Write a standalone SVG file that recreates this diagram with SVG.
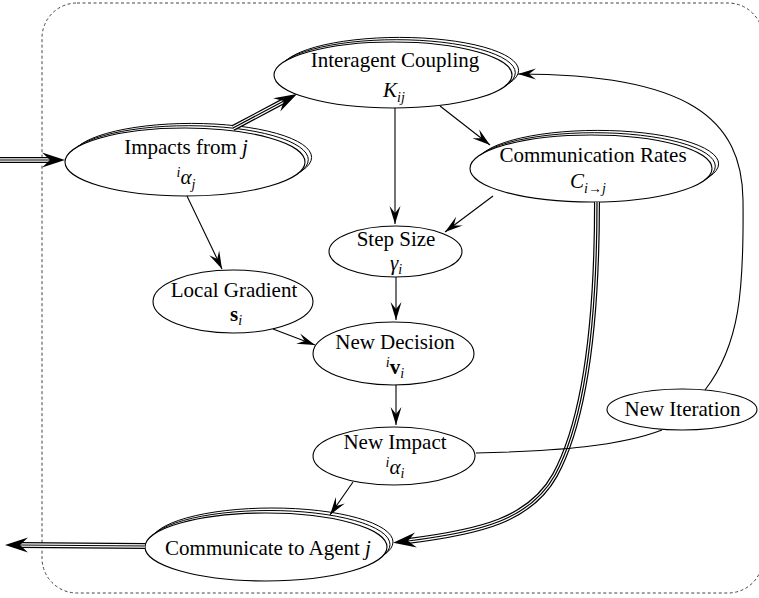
<svg xmlns="http://www.w3.org/2000/svg" width="759" height="598" viewBox="0 0 759 598">
<defs>
<style>
.bg{fill:#fff}
.frame{fill:none;stroke:#444;stroke-width:1;stroke-dasharray:3,2.5}
.node{fill:#fff;stroke:#000;stroke-width:1.1}
.per{fill:none;stroke:#000;stroke-width:1}
.lbl{font-family:"Liberation Serif","Times New Roman",serif;font-size:21px;text-anchor:middle;fill:#000}
.it{font-style:italic}
.sub{font-size:14px}
.b{font-weight:bold}
.e{fill:none;stroke:#000;stroke-width:1.1;marker-end:url(#arr)}
.plain{fill:none;stroke:#000;stroke-width:1.1}
.t1{fill:none;stroke:#000;stroke-width:6}
.t2{fill:none;stroke:#fff;stroke-width:3.6}
.t3{fill:none;stroke:#000;stroke-width:1.2;marker-end:url(#arr3)}
</style>
<marker id="arr" markerUnits="userSpaceOnUse" markerWidth="40" markerHeight="40" refX="0" refY="0" orient="auto" overflow="visible">
<path d="M0,0 L-18,-5.5 L-11,0 L-18,5.5 Z" fill="#000"/>
</marker>
<marker id="arr3" markerUnits="userSpaceOnUse" markerWidth="40" markerHeight="40" refX="0" refY="0" orient="auto" overflow="visible">
<path d="M15,0 L-8,-7.5 L0,0 L-8,7.5 Z" fill="#000"/>
</marker>
</defs>
<rect class="bg" x="0" y="0" width="759" height="598"/>
<rect class="frame" x="42" y="3" width="721" height="590" rx="35" ry="35"/>

<g id="node-coupling">
<ellipse class="per" cx="399.6" cy="70.4" rx="119" ry="33"/>
<ellipse class="per" cx="396.3" cy="72.7" rx="119" ry="33"/>
<ellipse class="node" cx="393" cy="75" rx="119" ry="33"/>
<text class="lbl" x="395" y="67">Interagent Coupling</text>
<text class="lbl" x="394" y="97"><tspan class="it">K</tspan><tspan class="it sub" dy="5">ij</tspan></text>
</g>

<g id="node-impacts">
<ellipse class="per" cx="191.6" cy="157.4" rx="120" ry="34"/>
<ellipse class="per" cx="188.3" cy="159.7" rx="120" ry="34"/>
<ellipse class="node" cx="185" cy="162" rx="120" ry="34"/>
<text class="lbl" x="186" y="154">Impacts from <tspan class="it">j</tspan></text>
<text class="lbl" x="186" y="184"><tspan class="it sub" dy="-7">i</tspan><tspan class="it" dy="7">α</tspan><tspan class="it sub" dy="5">j</tspan></text>
</g>

<g id="node-rates">
<ellipse class="per" cx="597.6" cy="163.9" rx="121" ry="33.5"/>
<ellipse class="per" cx="594.3" cy="166.2" rx="121" ry="33.5"/>
<ellipse class="node" cx="591" cy="168.5" rx="121" ry="33.5"/>
<text class="lbl" x="593" y="162">Communication Rates</text>
<text class="lbl" x="588" y="188"><tspan class="it">C</tspan><tspan class="sub" dy="5"><tspan class="it">i</tspan>→<tspan class="it">j</tspan></tspan></text>
</g>

<g id="node-step">
<ellipse class="node" cx="395.5" cy="251.5" rx="66.5" ry="25.5"/>
<text class="lbl" x="396" y="246">Step Size</text>
<text class="lbl" x="396" y="270"><tspan class="it">γ</tspan><tspan class="it sub" dy="4">i</tspan></text>
</g>

<g id="node-gradient">
<ellipse class="node" cx="233" cy="301.5" rx="80" ry="31.5"/>
<text class="lbl" x="234" y="297">Local Gradient</text>
<text class="lbl" x="236" y="321"><tspan class="b">s</tspan><tspan class="it sub" dy="4">i</tspan></text>
</g>

<g id="node-decision">
<ellipse class="node" cx="393.5" cy="353.5" rx="80.5" ry="31.5"/>
<text class="lbl" x="395" y="349">New Decision</text>
<text class="lbl" x="395" y="374"><tspan class="it sub" dy="-7">i</tspan><tspan class="b" dy="7">v</tspan><tspan class="it sub" dy="4">i</tspan></text>
</g>

<g id="node-impact">
<ellipse class="node" cx="394" cy="456" rx="81" ry="29"/>
<text class="lbl" x="395" y="449">New Impact</text>
<text class="lbl" x="395" y="474"><tspan class="it sub" dy="-7">i</tspan><tspan class="it" dy="7">α</tspan><tspan class="it sub" dy="4">i</tspan></text>
</g>

<g id="node-iteration">
<ellipse class="node" cx="682" cy="409.5" rx="75" ry="20.5"/>
<text class="lbl" x="682.5" y="416">New Iteration</text>
</g>

<g id="node-communicate">
<ellipse class="per" cx="272" cy="542" rx="121" ry="34"/>
<ellipse class="per" cx="269" cy="544.5" rx="121" ry="34"/>
<ellipse class="node" cx="266" cy="547" rx="121" ry="34"/>
<text class="lbl" x="268" y="555">Communicate to Agent <tspan class="it">j</tspan></text>
</g>

<g id="connectors">
<path class="t1" d="M0,160 L50,160"/>
<path class="t2" d="M0,160 L50,160"/>
<path class="t3" d="M0,160 L50,160"/>
<path class="t1" d="M233,128 L283.8,101"/>
<path class="t2" d="M233,128 L283.8,101"/>
<path class="t3" d="M233,128 L283.8,101"/>
<path class="t1" d="M597,202 C597,320 585,420 555,475 C530,520 480,532 408,541"/>
<path class="t2" d="M597,202 C597,320 585,420 555,475 C530,520 480,532 408,541"/>
<path class="t3" d="M597,202 C597,320 585,420 555,475 C530,520 480,532 408,541"/>
<path class="t1" d="M145,546 L20,545"/>
<path class="t2" d="M145,546 L20,545"/>
<path class="t3" d="M145,546 L20,545"/>
<path class="e" d="M395,108 L395,224"/>
<path class="e" d="M440,106 L490,145"/>
<path class="e" d="M493,196 L445,232"/>
<path class="e" d="M187,196 L222,269"/>
<path class="e" d="M396,277 L396,320"/>
<path class="e" d="M273,329 L315,345"/>
<path class="e" d="M396,385 L396,425"/>
<path class="e" d="M353,482 L330,515"/>
<path class="e" d="M705,390 C740,345 744,290 743,200 C742,120 690,74 518,74"/>
<path class="plain" d="M476,453 C560,451 620,446 662,430"/>
</g>
</svg>
